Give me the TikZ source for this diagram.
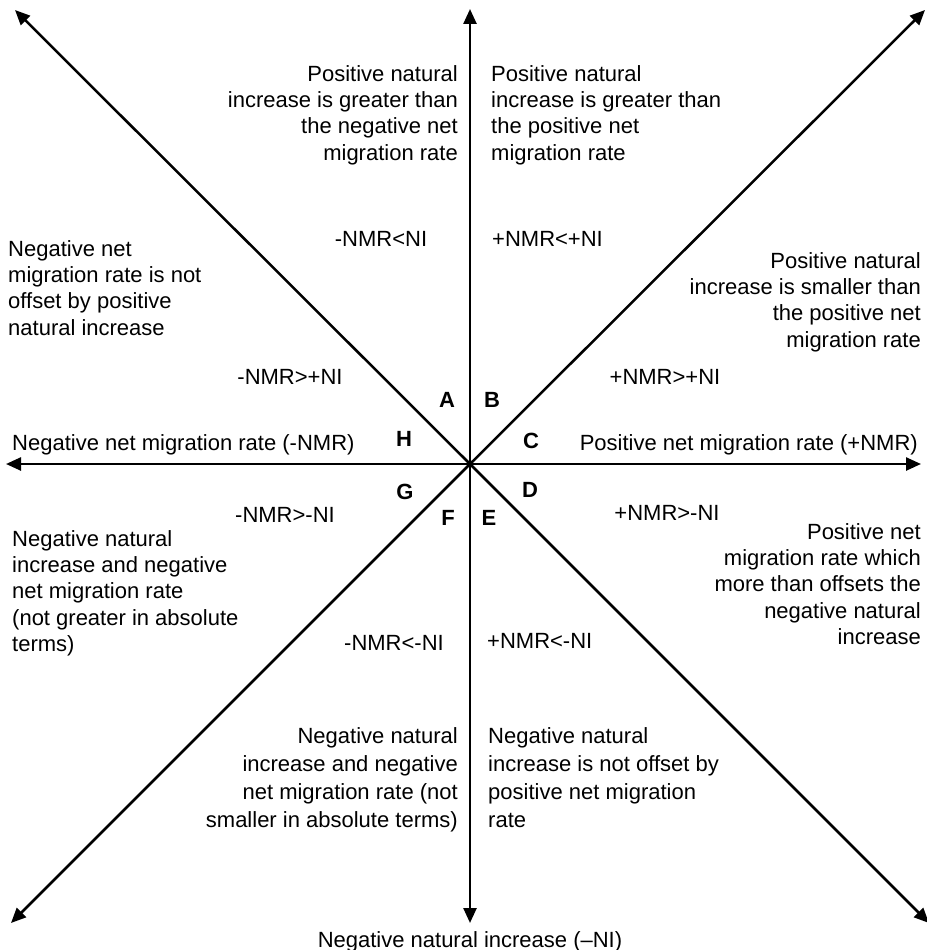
\documentclass[tikz,border=0pt]{standalone}
\usepackage{fontspec}
\setmainfont{Liberation Sans}
\usetikzlibrary{arrows.meta}
\begin{document}
\begin{tikzpicture}[x=1pt,y=-1pt,
  axis/.style={line width=2.5pt,-{Triangle[length=15pt,width=13pt]}},
  txt/.style={inner sep=0pt,font=\fontsize{22}{26.3}\selectfont},
  lblock/.style={txt,align=left},
  rblock/.style={txt,align=right},
  wide/.style={font=\fontsize{22}{28}\selectfont},
  sector/.style={txt,font=\fontsize{22}{26.3}\selectfont\bfseries}]
\useasboundingbox (0,0) rectangle (926,950);

% axes through the origin
\coordinate (o) at (470,464);
\coordinate (n) at (470,9);
\coordinate (s) at (470,923);
\coordinate (w) at (6,464);
\coordinate (e) at (921,464);
\coordinate (nw) at (15,10);
\coordinate (ne) at (925,10);
\coordinate (sw) at (11,923);
\coordinate (se) at (929,923);
\foreach \d in {n,s,w,e,nw,ne,sw,se}
  \draw[axis] (o) -- (\d);

% axis labels
\node[txt,anchor=base west] (negnmr) at (12,450) {Negative net migration rate (-NMR)};
\node[txt,anchor=base east] (posnmr) at (918,450) {Positive net migration rate (+NMR)};
\node[txt,anchor=base] (negni) at (470,947) {Negative natural increase (–NI)};

% sector letters
\node[sector] (sA) at (447,400) {A};
\node[sector] (sB) at (492,400) {B};
\node[sector] (sC) at (531,441) {C};
\node[sector] (sD) at (530,490) {D};
\node[sector] (sE) at (489,518) {E};
\node[sector] (sF) at (448,518) {F};
\node[sector] (sG) at (405,492) {G};
\node[sector] (sH) at (404,439) {H};

% conditions
\node[txt] (cA) at (381,239) {-NMR<NI};
\node[txt,anchor=west] (cB) at (492,239) {+NMR<+NI};
\node[txt] (cH) at (290,377) {-NMR>+NI};
\node[txt] (cC) at (665,377) {+NMR>+NI};
\node[txt] (cG) at (285,515) {-NMR>-NI};
\node[txt] (cD) at (667,513) {+NMR>-NI};
\node[txt] (cF) at (394,643) {-NMR<-NI};
\node[txt,anchor=west] (cE) at (487,641) {+NMR<-NI};

% descriptions
\node[rblock,anchor=north east] (dA) at (458,65)
  {Positive natural\\increase is greater than\\the negative net\\migration rate};
\node[lblock,anchor=north west] (dB) at (491,65)
  {Positive natural\\increase is greater than\\the positive net\\migration rate};
\node[lblock,anchor=north west] (dH) at (8,240)
  {Negative net\\migration rate is not\\offset by positive\\natural increase};
\node[rblock,anchor=north east] (dC) at (921,252)
  {Positive natural\\increase is smaller than\\the positive net\\migration rate};
\node[lblock,anchor=north west] (dG) at (12,530)
  {Negative natural\\increase and negative\\net migration rate\\(not greater in absolute\\terms)};
\node[rblock,anchor=north east] (dD) at (921,523)
  {Positive net\\migration rate which\\more than offsets the\\negative natural\\increase};
\node[rblock,wide,anchor=north east] (dF) at (458,727)
  {Negative natural\\increase and negative\\net migration rate (not\\smaller in absolute terms)};
\node[lblock,wide,anchor=north west] (dE) at (488,727)
  {Negative natural\\increase is not offset by\\positive net migration\\rate};
\end{tikzpicture}
\end{document}
